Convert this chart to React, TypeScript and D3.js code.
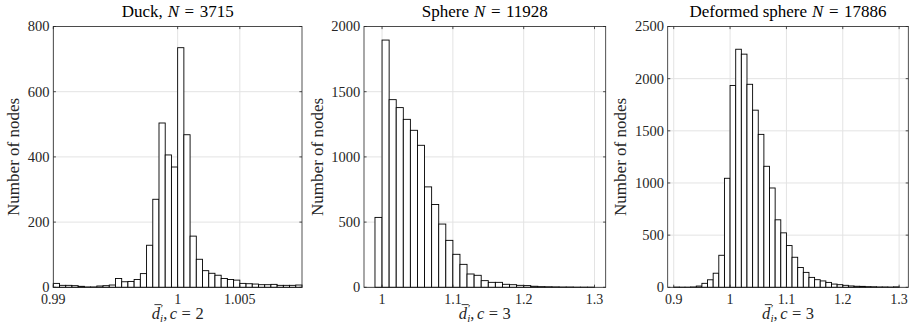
import React, { useRef, useEffect } from "react";
import * as d3 from "d3";

// histogram counts
const duckCounts = [
  12, 6, 6, 5, 3, 1, 1, 4, 5, 7, 27, 17, 18, 24, 42, 129, 270, 504, 406, 369,
  735, 468, 157, 86, 51, 43, 37, 27, 24, 22, 12, 11, 10, 8, 8, 9, 6, 6, 6, 7,
];
const duckBinStart = 0.99;
const duckBinWidth = 0.0005;
const duckXDomain = [0.99, 1.01];
const duckXTicks = [0.99, 1, 1.005];
const duckYTicks = [0, 200, 400, 600, 800];

const sphereCounts = [
  536, 1896, 1439, 1378, 1288, 1204, 1089, 770, 635, 485, 360, 253, 176, 102,
  92, 51, 38, 38, 23, 20, 15, 13, 8, 5, 4, 3, 2, 2, 1, 1, 1,
];
const sphereBinStart = 0.99;
const sphereBinWidth = 0.01;
const sphereXDomain = [0.9745, 1.3158];
const sphereXTicks = [1, 1.1, 1.2, 1.3];
const sphereYTicks = [0, 500, 1000, 1500, 2000];

const deformedCounts = [
  2, 1, 1, 3, 12, 38, 72, 135, 307, 1045, 1935, 2282, 2235, 1946, 1698, 1466,
  1160, 952, 647, 522, 400, 288, 190, 143, 95, 73, 61, 47, 31, 25, 19, 13, 10,
  9, 6, 5, 3, 3, 2, 4,
];
const deformedBinStart = 0.9;
const deformedBinWidth = 0.01;
const deformedXDomain = [0.8893, 1.3163];
const deformedXTicks = [0.9, 1, 1.1, 1.2, 1.3];
const deformedYTicks = [0, 500, 1000, 1500, 2000, 2500];

const titleNames = ["Duck,", "Sphere", "Deformed sphere"];
const nodeTotals = ["3715", "11928", "17886"];
const cValues = ["2", "3", "3"];

const WIDTH = 913;
const HEIGHT = 333;
const TOP = 26.5;
const BOTTOM = 287.3;
const FONT = "'Liberation Serif', 'Times New Roman', serif";
const AXIS = "#262626";
const GRID = "#e3e3e3";
const TICK_LEN = 2.6;

const panels = [
  {
    counts: duckCounts, binStart: duckBinStart, binWidth: duckBinWidth,
    xDomain: duckXDomain, xTicks: duckXTicks, yTicks: duckYTicks,
    left: 53.3, right: 302,
  },
  {
    counts: sphereCounts, binStart: sphereBinStart, binWidth: sphereBinWidth,
    xDomain: sphereXDomain, xTicks: sphereXTicks, yTicks: sphereYTicks,
    left: 364, right: 605.7,
  },
  {
    counts: deformedCounts, binStart: deformedBinStart, binWidth: deformedBinWidth,
    xDomain: deformedXDomain, xTicks: deformedXTicks, yTicks: deformedYTicks,
    left: 667.7, right: 908.3,
  },
];

const fmt = (v: number) => String(+v.toFixed(4));

const App = () => {
  const svgRef = useRef<SVGSVGElement>(null);

  useEffect(() => {
    const svg = d3.select(svgRef.current);
    svg.selectAll("*").remove();

    panels.forEach((p, k) => {
      const yMax = p.yTicks[p.yTicks.length - 1];
      const x = d3.scaleLinear().domain(p.xDomain).range([p.left, p.right]);
      const y = d3.scaleLinear().domain([0, yMax]).range([BOTTOM, TOP]);
      const g = svg.append("g");
      const cx = (p.left + p.right) / 2;

      // grid behind the bars
      g.selectAll(".gx")
        .data(p.xTicks)
        .join("line")
        .attr("x1", (d) => x(d))
        .attr("x2", (d) => x(d))
        .attr("y1", TOP)
        .attr("y2", BOTTOM)
        .attr("stroke", GRID)
        .attr("stroke-width", 1);
      g.selectAll(".gy")
        .data(p.yTicks)
        .join("line")
        .attr("x1", p.left)
        .attr("x2", p.right)
        .attr("y1", (d) => y(d))
        .attr("y2", (d) => y(d))
        .attr("stroke", GRID)
        .attr("stroke-width", 1);

      const bins = p.counts.map((c, i) => ({
        x0: p.binStart + i * p.binWidth,
        x1: p.binStart + (i + 1) * p.binWidth,
        count: c,
      }));

      g.append("g")
        .selectAll("rect")
        .data(bins)
        .join("rect")
        .attr("x", (d) => x(d.x0))
        .attr("width", (d) => x(d.x1) - x(d.x0))
        .attr("y", (d) => y(d.count))
        .attr("height", (d) => BOTTOM - y(d.count))
        .attr("fill", "#fff")
        .attr("stroke", "#000")
        .attr("stroke-width", 0.9);

      // box and inward ticks on all sides
      g.append("rect")
        .attr("x", p.left)
        .attr("y", TOP)
        .attr("width", p.right - p.left)
        .attr("height", BOTTOM - TOP)
        .attr("fill", "none")
        .attr("stroke", AXIS)
        .attr("stroke-width", 0.8);

      const ticks = g.append("g").attr("stroke", AXIS).attr("stroke-width", 0.8);
      p.xTicks.forEach((t) => {
        ticks.append("line").attr("x1", x(t)).attr("x2", x(t)).attr("y1", BOTTOM).attr("y2", BOTTOM - TICK_LEN);
        ticks.append("line").attr("x1", x(t)).attr("x2", x(t)).attr("y1", TOP).attr("y2", TOP + TICK_LEN);
      });
      p.yTicks.forEach((t) => {
        ticks.append("line").attr("x1", p.left).attr("x2", p.left + TICK_LEN).attr("y1", y(t)).attr("y2", y(t));
        ticks.append("line").attr("x1", p.right).attr("x2", p.right - TICK_LEN).attr("y1", y(t)).attr("y2", y(t));
      });

      // tick labels
      g.append("g")
        .selectAll("text")
        .data(p.xTicks)
        .join("text")
        .attr("x", (d) => x(d))
        .attr("y", 303.8)
        .attr("text-anchor", "middle")
        .style("font-family", FONT)
        .style("font-size", "14px")
        .attr("fill", AXIS)
        .text((d) => fmt(d));

      const yLabels = g.append("g");
      yLabels
        .selectAll("text")
        .data(p.yTicks)
        .join("text")
        .attr("x", p.left - 3.8)
        .attr("y", (d) => y(d))
        .attr("dy", "0.34em")
        .attr("text-anchor", "end")
        .style("font-family", FONT)
        .style("font-size", "14.5px")
        .attr("fill", AXIS)
        .text((d) => fmt(d));

      const yb = (yLabels.node() as SVGGElement).getBBox();
      const ylx = yb.x - 8.5;
      const yly = (TOP + BOTTOM) / 2;
      g.append("text")
        .attr("transform", `translate(${ylx},${yly}) rotate(-90)`)
        .attr("text-anchor", "middle")
        .style("font-family", FONT)
        .style("font-size", "17px")
        .attr("fill", AXIS)
        .text("Number of nodes");

      // title
      const title = g
        .append("text")
        .attr("x", cx)
        .attr("y", 17.3)
        .attr("text-anchor", "middle")
        .style("font-family", FONT)
        .style("font-size", "17px")
        .attr("fill", "#000");
      title.append("tspan").text(titleNames[k]);
      title.append("tspan").attr("dx", 5).style("font-style", "italic").text("N");
      title.append("tspan").attr("dx", 5.5).text("=");
      title.append("tspan").attr("dx", 5.5).text(nodeTotals[k]);

      // x label: d-bar prime sub i, c = ...
      const xl = g
        .append("text")
        .attr("x", cx)
        .attr("y", 318.6)
        .attr("text-anchor", "middle")
        .style("font-family", FONT)
        .style("font-size", "16.5px")
        .attr("fill", AXIS);
      xl.append("tspan").style("font-style", "italic").text("d");
      xl.append("tspan").attr("dx", 0.8).attr("dy", -6.5).style("font-size", "11px").text("\u2032");
      xl.append("tspan").attr("dx", -3).attr("dy", 10).style("font-size", "11px").style("font-style", "italic").text("i");
      xl.append("tspan").attr("dy", -3.5).text(",");
      xl.append("tspan").attr("dx", 2.5).style("font-style", "italic").text("c");
      xl.append("tspan").attr("dx", 4.5).text("=");
      xl.append("tspan").attr("dx", 4.5).text(cValues[k]);

      const ext = (xl.node() as SVGTextElement).getExtentOfChar(0);
      g.append("line")
        .attr("x1", ext.x + 2.8)
        .attr("x2", ext.x + ext.width + 1.6)
        .attr("y1", 318.6 - 14)
        .attr("y2", 318.6 - 14)
        .attr("stroke", AXIS)
        .attr("stroke-width", 0.9);
    });
  }, []);

  return (
    <svg
      ref={svgRef}
      width={WIDTH}
      height={HEIGHT}
      style={{ position: "absolute", left: 0, top: 0, background: "#fff" }}
    />
  );
};

export default App;
